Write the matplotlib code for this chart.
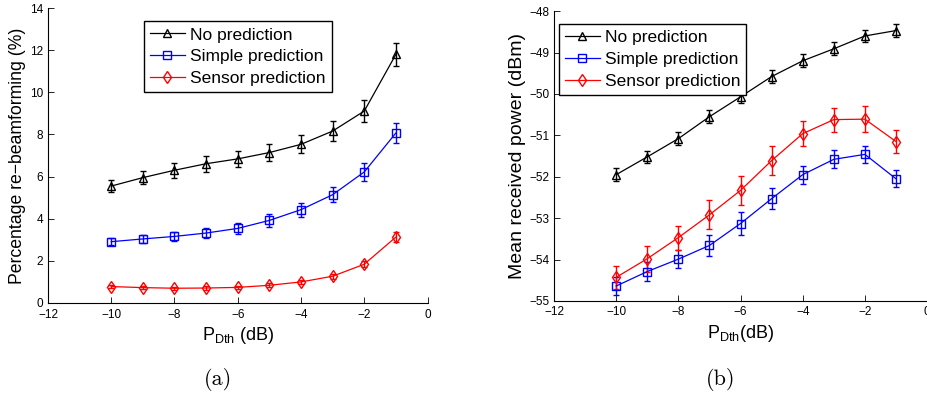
import numpy as np
import matplotlib
matplotlib.use('Agg')
import matplotlib.pyplot as plt
from matplotlib.lines import Line2D

plt.rcParams['font.family'] = ['Liberation Sans', 'DejaVu Sans']
plt.rcParams['mathtext.default'] = 'regular'

# P_Dth values (dB)
pdth = [-10, -9, -8, -7, -6, -5, -4, -3, -2, -1]

# (a) percentage re-beamforming
rb_none = [5.55, 5.95, 6.3, 6.61, 6.84, 7.14, 7.53, 8.16, 9.11, 11.8]
rb_none_err = [0.28, 0.32, 0.36, 0.38, 0.38, 0.4, 0.42, 0.46, 0.51, 0.55]
rb_simple = [2.91, 3.04, 3.16, 3.32, 3.54, 3.92, 4.43, 5.14, 6.22, 8.07]
rb_simple_err = [0.18, 0.2, 0.22, 0.25, 0.27, 0.3, 0.33, 0.37, 0.43, 0.47]
rb_sensor = [0.78, 0.73, 0.7, 0.71, 0.74, 0.84, 1.0, 1.27, 1.84, 3.13]
rb_sensor_err = [0.08, 0.08, 0.08, 0.08, 0.08, 0.09, 0.1, 0.12, 0.15, 0.25]

# (b) mean received power (dBm)
pw_none = [-51.95, -51.52, -51.08, -50.55, -50.07, -49.58, -49.2, -48.91, -48.6, -48.47]
pw_none_err = [0.16, 0.15, 0.16, 0.15, 0.15, 0.15, 0.16, 0.16, 0.15, 0.15]
pw_simple = [-54.64, -54.29, -53.99, -53.66, -53.13, -52.53, -51.95, -51.58, -51.46, -52.05]
pw_simple_err = [0.22, 0.24, 0.22, 0.26, 0.27, 0.26, 0.22, 0.22, 0.21, 0.21]
pw_sensor = [-54.43, -53.98, -53.47, -52.92, -52.33, -51.61, -50.96, -50.62, -50.61, -51.15]
pw_sensor_err = [0.27, 0.31, 0.29, 0.35, 0.35, 0.35, 0.3, 0.29, 0.32, 0.27]

labels = ['No prediction', 'Simple prediction', 'Sensor prediction']
colors = ['k', 'b', 'r']
markers = ['^', 's', 'd']

fig = plt.figure(figsize=(9.28, 3.97), dpi=100)
ax1 = fig.add_axes([0.0517, 0.2368, 0.409, 0.743])
ax2 = fig.add_axes([0.597, 0.242, 0.402, 0.730])

def draw(ax, series, errs, anchor):
    for y, e, c, m in zip(series, errs, colors, markers):
        ax.errorbar(pdth, y, yerr=e, color=c, marker=m, mfc='none', mec=c,
                    ms=6, lw=0.9, elinewidth=1.0, capsize=2.5, capthick=1.0)
    ax.set_xlim(-12, 0)
    ax.set_xticks(range(-12, 1, 2))
    ax.set_xticklabels(['\u221212', '\u221210', '\u22128', '\u22126', '\u22124', '\u22122', '0'])
    for s in ['top', 'right']:
        ax.spines[s].set_visible(False)
    for s in ['left', 'bottom']:
        ax.spines[s].set_linewidth(0.8)
    ax.tick_params(direction='in', length=4, width=0.6, labelsize=8.5)
    ax.tick_params(axis='x', pad=4)
    handles = [Line2D([], [], color=c, marker=m, mfc='none', mec=c, ms=6, lw=0.9)
               for c, m in zip(colors, markers)]
    leg = ax.legend(handles, labels, loc='upper left', fontsize=12.5,
                    handlelength=2.0, fancybox=False, framealpha=1,
                    edgecolor='k', borderpad=0.35, labelspacing=0.38,
                    handletextpad=0.3, borderaxespad=0,
                    bbox_to_anchor=anchor)
    leg.get_frame().set_linewidth(1.0)

draw(ax1, [rb_none, rb_simple, rb_sensor], [rb_none_err, rb_simple_err, rb_sensor_err],
     (0.253, 0.955))
ax1.set_ylim(0, 14)
ax1.set_yticks(range(0, 15, 2))
ax1.set_ylabel('Percentage re\u2212beamforming (%)', fontsize=12.7, labelpad=3)
ax1.set_xlabel('P$_{Dth}$ (dB)', fontsize=13, labelpad=3)

draw(ax2, [pw_none, pw_simple, pw_sensor], [pw_none_err, pw_simple_err, pw_sensor_err],
     (0.013, 0.955))
ax2.set_ylim(-55, -48)
ax2.set_yticks(range(-55, -47))
ax2.set_yticklabels(['\u2212%d' % v for v in range(55, 47, -1)])
ax2.set_ylabel('Mean received power (dBm)', fontsize=14, labelpad=2)
ax2.set_xlabel('P$_{Dth}$(dB)', fontsize=13, labelpad=3)

fig.text(0.235, 0.045, '(a)', ha='center', va='center', fontsize=16,
         family=['cmr10', 'DejaVu Serif'])
fig.text(0.776, 0.045, '(b)', ha='center', va='center', fontsize=16,
         family=['cmr10', 'DejaVu Serif'])

fig.savefig('out.png', dpi=100)
